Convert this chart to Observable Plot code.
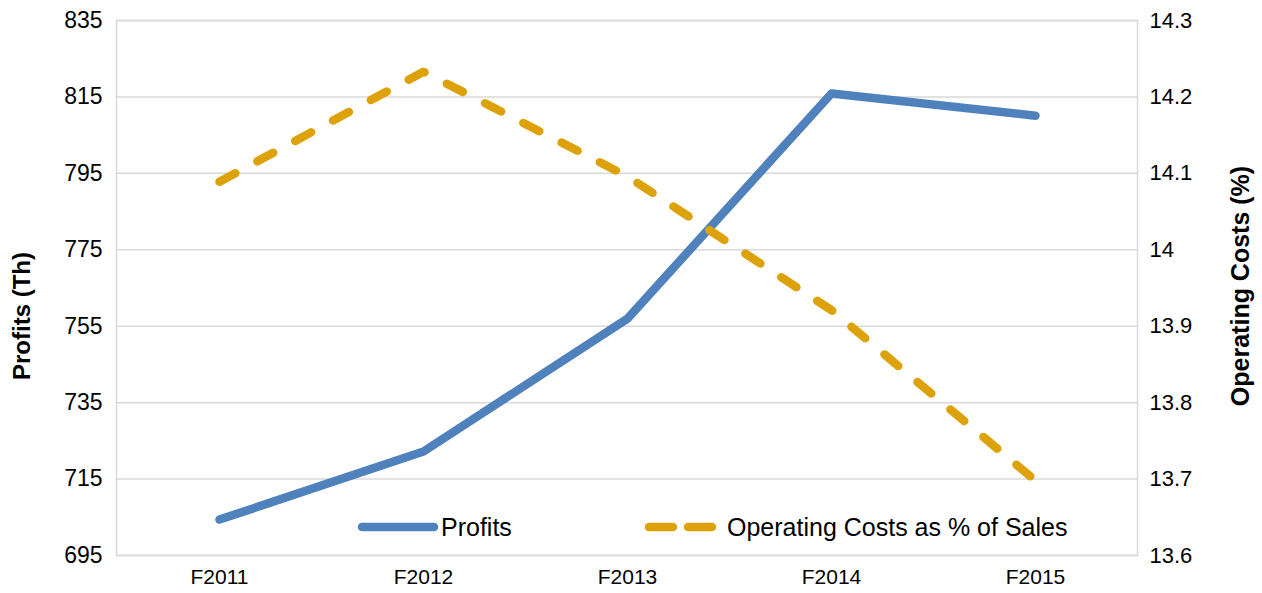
<!DOCTYPE html>
<html>
<head>
<meta charset="utf-8">
<script src="https://cdn.jsdelivr.net/npm/d3@7"></script>
<script src="https://cdn.jsdelivr.net/npm/@observablehq/plot@0.6"></script>
<style>
  html, body { margin: 0; padding: 0; background: #fff; }
  #wrap { position: relative; width: 1262px; height: 593px; font-family: "Liberation Sans", Arial, sans-serif; }
  #legend { position: absolute; left: 356px; top: 512px; height: 30px; font-size: 25px; color: #000; }
  #legend svg { position: absolute; top: 7px; display: block; }
  #legend span { position: absolute; top: 0; white-space: nowrap; line-height: 30px; }
</style>
</head>
<body>
<div id="wrap"></div>
<script>
const years = ["F2011", "F2012", "F2013", "F2014", "F2015"];
const profits = [704.4, 722.2, 757.0, 815.9, 810.1];
const opCosts = [14.089, 14.233, 14.096, 13.921, 13.698];
const leftTicks = [695, 715, 735, 755, 775, 795, 815, 835];
const rightTicks = [13.6, 13.7, 13.8, 13.9, 14.0, 14.1, 14.2, 14.3];
const seriesNames = ["Profits", "Operating Costs as % of Sales"];
const axisTitles = ["Profits (Th)", "Operating Costs (%)"];

const blue = "#4F81BD";
const gold = "#DDA20A";

// map right-axis values onto the left (profits) scale
const yMin = 695, yMax = 835, rMin = 13.6, rMax = 14.3;
const toLeft = v => yMin + (v - rMin) / (rMax - rMin) * (yMax - yMin);
const toRight = v => rMin + (v - yMin) / (yMax - yMin) * (rMax - rMin);

const profitData = years.map((y, i) => ({year: y, value: profits[i]}));
const costData = years.map((y, i) => ({year: y, value: toLeft(opCosts[i])}));

const chart = Plot.plot({
  width: 1262,
  height: 593,
  marginLeft: 116,
  marginRight: 125,
  marginTop: 20,
  marginBottom: 38,
  style: {fontFamily: "'Liberation Sans', Arial, sans-serif", background: "#fff"},
  x: {type: "point", domain: years, padding: 0.5, label: null},
  y: {domain: [yMin, yMax], label: null},
  marks: [
    Plot.gridY(leftTicks, {stroke: "#D9D9D9", strokeOpacity: 1, strokeWidth: 1.5}),
    Plot.frame({stroke: "#D9D9D9", strokeWidth: 1.5}),
    Plot.axisY(leftTicks, {anchor: "left", tickSize: 0, tickPadding: 14, fontSize: 23, fill: "#000", label: null}),
    Plot.axisY(rightTicks.map(toLeft), {anchor: "right", tickSize: 0, tickPadding: 12, fontSize: 22, fill: "#000", label: null,
      tickFormat: v => { const r = Math.round(toRight(v) * 10) / 10; return d3.format("~g")(r); }}),
    Plot.axisX(years, {anchor: "bottom", tickSize: 0, tickPadding: 14, fontSize: 21, fill: "#000", label: null}),
    Plot.text([axisTitles[0]], {frameAnchor: "left", textAnchor: "middle", dx: -94, dy: 28, rotate: -90, fontSize: 24, fontWeight: "bold", fill: "#000"}),
    Plot.text([axisTitles[1]], {frameAnchor: "right", textAnchor: "middle", dx: 103, dy: -2, rotate: -90, fontSize: 25, fontWeight: "bold", fill: "#000"}),
    Plot.line(profitData, {x: "year", y: "value", stroke: blue, strokeWidth: 8.5, strokeLinejoin: "round", strokeLinecap: "round"}),
    Plot.line(costData, {x: "year", y: "value", stroke: gold, strokeWidth: 8.5, strokeLinejoin: "round", strokeLinecap: "round", strokeDasharray: "18,25"})
  ]
});

const wrap = document.getElementById("wrap");
wrap.appendChild(chart);

const legend = document.createElement("div");
legend.id = "legend";
legend.innerHTML =
  `<svg style="left:0" width="84" height="16"><line x1="6" y1="8" x2="78" y2="8" stroke="${blue}" stroke-width="8.5" stroke-linecap="round"/></svg>` +
  `<span style="left:85px">${seriesNames[0]}</span>` +
  `<svg style="left:287px" width="84" height="16"><line x1="6" y1="8" x2="78" y2="8" stroke="${gold}" stroke-width="8.5" stroke-linecap="round" stroke-dasharray="24,15"/></svg>` +
  `<span style="left:371px">${seriesNames[1]}</span>`;
wrap.appendChild(legend);
</script>
</body>
</html>
